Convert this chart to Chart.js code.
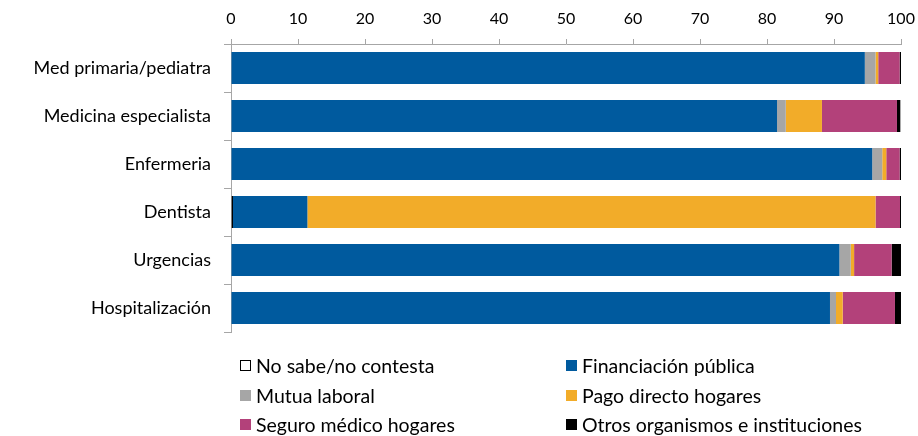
<!DOCTYPE html>
<html>
<head>
<meta charset="utf-8">
<script src="https://cdn.jsdelivr.net/npm/chart.js@4/dist/chart.umd.min.js"></script>
<style>
  html, body { margin: 0; padding: 0; background: #fff; }
  #wrap { position: relative; width: 918px; height: 436px; }
  #legend {
    position: absolute; left: 240px; top: 351px;
    display: grid; grid-template-columns: 326px 340px;
    grid-auto-rows: 29.5px;
    font-family: Lato, sans-serif; font-size: 19.5px; color: #000;
  }
  #legend div { display: flex; align-items: center; white-space: nowrap; }
  #legend span.box { display: inline-block; width: 11px; height: 11px; margin-right: 5px; box-sizing: border-box; }
</style>
</head>
<body>
<div id="wrap">
  <canvas id="chart" width="918" height="436"></canvas>
  <div id="legend"></div>
</div>
<script>
// Categories (top to bottom)
const categories = [
  'Med primaria/pediatra', 'Medicina especialista', 'Enfermeria',
  'Dentista', 'Urgencias', 'Hospitalización'
];

// Shares in percent per funding source
const noSabe     = [0.0, 0.0, 0.0, 0.3, 0.0, 0.0];
const financPub  = [94.6, 81.5, 95.7, 11.1, 90.8, 89.4];
const mutua      = [1.6, 1.3, 1.5, 0.0, 1.7, 0.9];
const pagoDirect = [0.4, 5.4, 0.6, 84.8, 0.5, 1.0];
const seguro     = [3.2, 11.2, 2.0, 3.65, 5.6, 7.8];
const otros      = [0.2, 0.5, 0.2, 0.15, 1.4, 0.9];

const xTicks = [0, 10, 20, 30, 40, 50, 60, 70, 80, 90, 100];

const series = [
  { label: 'No sabe/no contesta', data: noSabe, color: '#ffffff', border: '#000000', bw: 1 },
  { label: 'Financiación pública', data: financPub, color: '#005A9E', border: '#005A9E', bw: 0 },
  { label: 'Mutua laboral', data: mutua, color: '#A6A6A6', border: '#A6A6A6', bw: 0 },
  { label: 'Pago directo hogares', data: pagoDirect, color: '#F2AC29', border: '#F2AC29', bw: 0 },
  { label: 'Seguro médico hogares', data: seguro, color: '#B3417A', border: '#B3417A', bw: 0 },
  { label: 'Otros organismos e instituciones', data: otros, color: '#000000', border: '#000000', bw: 0 }
];

const FONT = 'Lato, sans-serif';

const chart = new Chart(document.getElementById('chart'), {
  type: 'bar',
  data: {
    labels: categories,
    datasets: series.map(function(s) {
      return {
        label: s.label,
        data: s.data,
        backgroundColor: s.color,
        borderColor: s.border,
        borderWidth: s.bw,
        borderSkipped: false,
        barPercentage: 0.667,
        categoryPercentage: 1.0
      };
    })
  },
  options: {
    indexAxis: 'y',
    responsive: false,
    animation: false,
    layout: { padding: { left: 0, right: 17, top: 0, bottom: 104 } },
    plugins: { legend: { display: false }, tooltip: { enabled: false } },
    scales: {
      x: {
        position: 'top',
        stacked: true,
        min: 0, max: 100,
        afterBuildTicks: function(scale) { scale.ticks = xTicks.map(function(v) { return { value: v }; }); },
        afterFit: function(scale) {
          scale.height = 44;
          scale.paddingLeft = 0;
          scale.paddingRight = 0;
        },
        grid: { drawOnChartArea: false, drawTicks: true, tickLength: 5, color: '#A6A6A6' },
        border: { color: '#A6A6A6', width: 1 },
        ticks: { color: '#000', font: { family: FONT, size: 16 }, padding: 11, maxRotation: 0 }
      },
      y: {
        stacked: true,
        afterFit: function(scale) { scale.width = 231; },
        grid: { drawOnChartArea: false, drawTicks: true, tickLength: 7, offset: true, color: '#A6A6A6' },
        border: { color: '#A6A6A6', width: 1 },
        ticks: { color: '#000', font: { family: FONT, size: 18 }, padding: 13 }
      }
    }
  }
});

// Two-column legend built from the chart datasets
const legendEl = document.getElementById('legend');
chart.data.datasets.forEach(function(ds) {
  const item = document.createElement('div');
  const box = document.createElement('span');
  box.className = 'box';
  box.style.background = ds.backgroundColor;
  if (ds.borderWidth > 0) box.style.border = '1px solid ' + ds.borderColor;
  item.appendChild(box);
  item.appendChild(document.createTextNode(ds.label));
  legendEl.appendChild(item);
});
</script>
</body>
</html>
